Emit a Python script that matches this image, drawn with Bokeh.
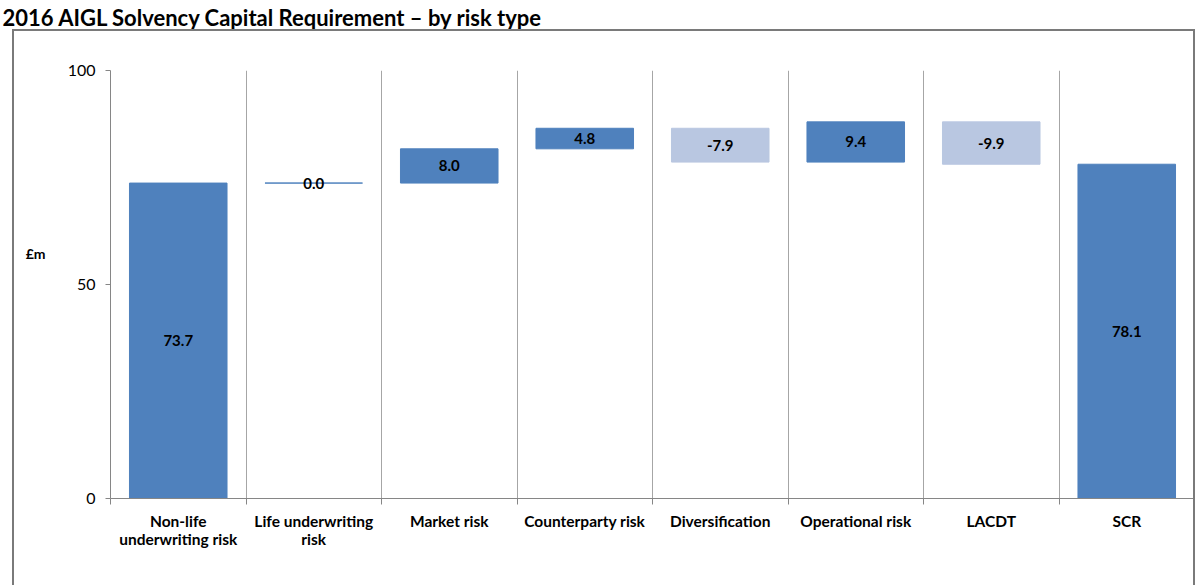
from bokeh.plotting import figure
from bokeh.models import FixedTicker, ColumnDataSource, Range1d, LinearAxis, InlineStyleSheet
from bokeh.embed import file_html
from bokeh.resources import INLINE
from bokeh.core.properties import value

title_text = "2016 AIGL Solvency Capital Requirement \u2013 by risk type"
categories = ["Non-life\nunderwriting risk", "Life underwriting\nrisk", "Market risk",
              "Counterparty risk", "Diversification", "Operational risk", "LACDT", "SCR"]
values = [73.7, 0.0, 8.0, 4.8, -7.9, 9.4, -9.9, 78.1]
is_total = [True, False, False, False, False, False, False, True]
y_ticks = [0, 50, 100]
y_unit = "\u00a3m"
y_unit_pos = 57.2
title_pos = 1.17

DARK = "#4F81BD"
LIGHT = "#B9C7E1"
FONT = "Lato"

bottoms, tops, colors, labels, xs = [], [], [], [], []
running = 0.0
for i, (v, t) in enumerate(zip(values, is_total)):
    if t:
        b, tp = 0.0, v
        running = v
    else:
        b, tp = running, running + v
        running += v
    bottoms.append(min(b, tp))
    tops.append(max(b, tp))
    colors.append(LIGHT if v < 0 else DARK)
    labels.append(f"{v:.1f}")
    xs.append(i + 0.5)

mids = [(b + t) / 2 for b, t in zip(bottoms, tops)]
src = ColumnDataSource(dict(x=xs, bottom=bottoms, top=tops, color=colors, label=labels, mid=mids))

p = figure(width=1197, height=585, x_range=Range1d(0, 8), y_range=Range1d(0, 100),
           output_backend="svg", toolbar_location=None,
           min_border_left=110, min_border_right=3, min_border_top=70, min_border_bottom=87)
p.outline_line_color = None
p.background_fill_color = "white"
p.border_fill_color = "white"

p.ygrid.grid_line_color = None
p.xgrid.ticker = FixedTicker(ticks=[1, 2, 3, 4, 5, 6, 7, 8])
p.xgrid.grid_line_color = "#A6A6A6"
p.xgrid.grid_line_width = 1

p.vbar(x="x", bottom="bottom", top="top", width=0.72, fill_color="color",
       line_color="color", line_width=1, source=src)
p.text(x="x", y="mid", text="label", source=src, text_align="center", text_baseline="middle",
       text_font=value(FONT), text_font_style="bold", text_font_size="15px", text_color="#000000")

xa = p.xaxis[0]
xa.ticker = FixedTicker(ticks=xs, minor_ticks=list(range(9)))
xa.major_label_overrides = {x: c for x, c in zip(xs, categories)}
xa.major_tick_line_color = None
xa.major_tick_out = 0
xa.major_tick_in = 0
xa.minor_tick_line_color = "#868686"
xa.minor_tick_out = 6
xa.minor_tick_in = 0
xa.axis_line_color = "#868686"
xa.major_label_text_font = FONT
xa.major_label_text_font_style = "bold"
xa.major_label_text_font_size = "15.5px"
xa.major_label_text_color = "#000000"
xa.major_label_text_line_height = 1.0
xa.major_label_standoff = 7

ya = p.yaxis[0]
ya.ticker = FixedTicker(ticks=y_ticks, minor_ticks=[])
ya.major_tick_out = 5
ya.major_tick_in = 0
ya.major_tick_line_color = "#868686"
ya.minor_tick_line_color = None
ya.axis_line_color = "#868686"
ya.major_label_text_font = FONT
ya.major_label_text_font_size = "16px"
ya.major_label_text_color = "#000000"
ya.major_label_standoff = 10

unit_axis = LinearAxis(ticker=FixedTicker(ticks=[y_unit_pos], minor_ticks=[]),
                       major_label_overrides={y_unit_pos: y_unit})
unit_axis.axis_line_color = None
unit_axis.major_tick_line_color = None
unit_axis.minor_tick_line_color = None
unit_axis.major_tick_out = 0
unit_axis.major_label_standoff = 19
unit_axis.major_label_text_font = FONT
unit_axis.major_label_text_font_style = "bold"
unit_axis.major_label_text_font_size = "14px"
unit_axis.major_label_text_color = "#000000"
p.add_layout(unit_axis, "left")

title_axis = LinearAxis(ticker=FixedTicker(ticks=[title_pos], minor_ticks=[]),
                        major_label_overrides={title_pos: title_text})
title_axis.axis_line_color = None
title_axis.major_tick_line_color = None
title_axis.minor_tick_line_color = None
title_axis.major_tick_out = 0
title_axis.major_tick_in = 0
title_axis.major_label_standoff = 40
title_axis.major_label_text_font = FONT
title_axis.major_label_text_font_style = "bold"
title_axis.major_label_text_font_size = "22px"
title_axis.major_label_text_color = "#000000"
p.add_layout(title_axis, "above")

p.stylesheets = [InlineStyleSheet(css="""
:host { position: relative; overflow: hidden; }
:host::after { content: ''; position: absolute; left: 12px; top: 29px; box-sizing: border-box;
  width: 1183px; height: 1000px; border: 2px solid #7A7A7A; pointer-events: none; }
""")]

open("out.html", "w").write(file_html(p, INLINE))
